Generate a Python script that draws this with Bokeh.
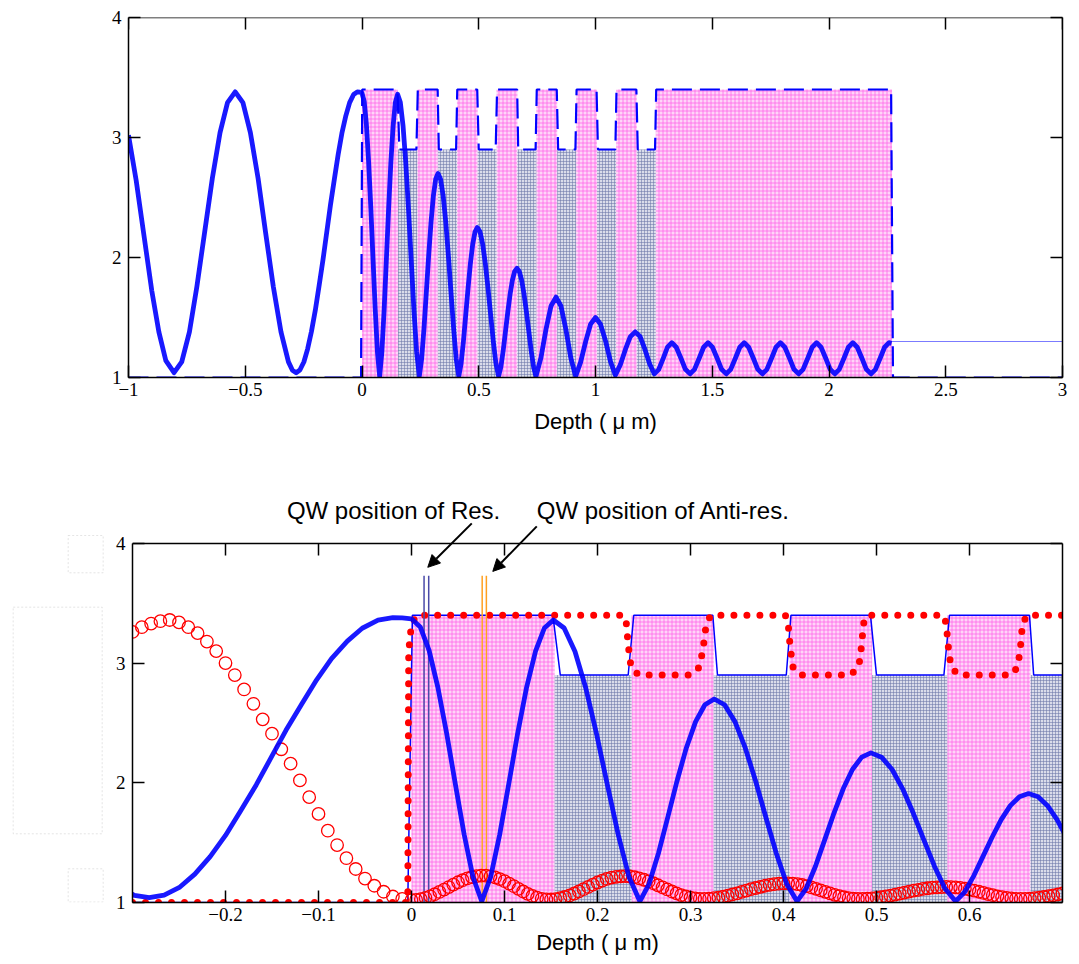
import numpy as np
from bokeh.plotting import figure
from bokeh.layouts import column, row
from bokeh.models import (LinearAxis, FixedTicker, Label, Arrow, NormalHead, Range1d,
                          BoxAnnotation)
from bokeh.embed import file_html
from bokeh.resources import INLINE

# ---------------- data ----------------
# optical field intensity (thick blue curve), depth in um
blue_x = [
    -1.000, -0.967, -0.935, -0.900, -0.870, -0.840, -0.805,
    -0.772, -0.739, -0.707, -0.674, -0.641, -0.608, -0.576, -0.543,
    -0.510, -0.478, -0.445, -0.413, -0.380, -0.347, -0.315, -0.298, -0.282,
    -0.266, -0.249, -0.233, -0.2165, -0.200, -0.184, -0.167, -0.151,
    -0.135, -0.118, -0.102, -0.086, -0.069, -0.053, -0.036, -0.020,
    -0.010, 0.000,
    0.0094, 0.0189, 0.0283, 0.0378, 0.0472, 0.0566, 0.0661, 0.0755,
    0.0851, 0.0948, 0.1044, 0.1140, 0.1236, 0.1333, 0.1429, 0.1525,
    0.1641, 0.1758, 0.1874, 0.1990, 0.2106, 0.2223, 0.2339, 0.2455,
    0.2555, 0.2655, 0.2755, 0.2855, 0.2955, 0.3055, 0.3155, 0.3255,
    0.3366, 0.3478, 0.3589, 0.3700, 0.3811, 0.3923, 0.4034, 0.4145,
    0.4244, 0.4344, 0.4443, 0.4543, 0.4642, 0.4741, 0.4841, 0.4940,
    0.5054, 0.5168, 0.5281, 0.5395, 0.5509, 0.5623, 0.5736, 0.5850,
    0.5948, 0.6046, 0.6144, 0.6243, 0.6341, 0.6439, 0.6537, 0.6635,
    0.6737, 0.6839, 0.6941, 0.7043, 0.7145, 0.7246, 0.7348, 0.7450,
    0.7665, 0.7880, 0.8095, 0.8310,
    0.852, 0.873, 0.894, 0.915,
    0.936, 0.958, 0.979, 1.000,
    1.021, 1.043, 1.064, 1.085,
    1.106, 1.128, 1.149, 1.170,
    1.191, 1.211, 1.232, 1.252,
    1.271, 1.290, 1.308, 1.327,
    1.346, 1.366, 1.385, 1.405,
    1.424, 1.444, 1.463, 1.482,
    1.501, 1.521, 1.540, 1.560,
    1.579, 1.599, 1.618, 1.637,
    1.656, 1.676, 1.695, 1.715,
    1.734, 1.754, 1.773, 1.792,
    1.811, 1.831, 1.850, 1.870,
    1.889, 1.909, 1.928, 1.947,
    1.966, 1.986, 2.005, 2.025,
    2.044, 2.064, 2.083, 2.102,
    2.121, 2.141, 2.160, 2.180,
    2.199, 2.219, 2.238, 2.257,
    2.268,
]
blue_y = [
    3.02, 2.64, 2.20, 1.72, 1.38, 1.14, 1.04,
    1.13, 1.38, 1.76, 2.21, 2.66, 3.04, 3.29, 3.38,
    3.29, 3.04, 2.66, 2.21, 1.76, 1.38, 1.13, 1.06, 1.04,
    1.062, 1.129, 1.237, 1.383, 1.560, 1.762, 1.982, 2.210,
    2.438, 2.658, 2.860, 3.037, 3.183, 3.291, 3.358, 3.380,
    3.378, 3.370,
    3.302, 3.106, 2.799, 2.413, 1.987, 1.569, 1.213, 1.010,
    1.213, 1.566, 1.983, 2.407, 2.792, 3.097, 3.293, 3.360,
    3.293, 3.097, 2.792, 2.407, 1.983, 1.566, 1.213, 1.010,
    1.156, 1.410, 1.710, 2.015, 2.291, 2.511, 2.652, 2.700,
    2.652, 2.511, 2.291, 2.015, 1.710, 1.410, 1.156, 1.010,
    1.117, 1.303, 1.523, 1.747, 1.950, 2.111, 2.214, 2.250,
    2.214, 2.111, 1.950, 1.747, 1.523, 1.303, 1.117, 1.010,
    1.088, 1.223, 1.383, 1.545, 1.692, 1.809, 1.884, 1.910,
    1.884, 1.809, 1.692, 1.545, 1.383, 1.223, 1.088, 1.010,
    1.166, 1.402, 1.596, 1.670,
    1.596, 1.402, 1.166, 1.010,
    1.126, 1.301, 1.445, 1.500,
    1.446, 1.305, 1.134, 1.020,
    1.105, 1.234, 1.340, 1.380,
    1.341, 1.238, 1.113, 1.030,
    1.068, 1.160, 1.252, 1.290,
    1.252, 1.160, 1.068, 1.030,
    1.068, 1.160, 1.252, 1.290,
    1.252, 1.160, 1.068, 1.030,
    1.068, 1.160, 1.252, 1.290,
    1.252, 1.160, 1.068, 1.030,
    1.068, 1.160, 1.252, 1.290,
    1.252, 1.160, 1.068, 1.030,
    1.068, 1.160, 1.252, 1.290,
    1.252, 1.160, 1.068, 1.030,
    1.068, 1.160, 1.252, 1.290,
    1.252, 1.160, 1.068, 1.030,
    1.068, 1.160, 1.252, 1.290,
    1.285,
]

# refractive-index profile of the resonant structure (blue)
index_x = [-1.0, -0.004, 0.001, 0.152, 0.160, 0.233, 0.239, 0.324, 0.329, 0.403,
           0.408, 0.4935, 0.500, 0.5725, 0.5785, 0.6645, 0.669, 0.7435, 0.7485, 0.834,
           0.840, 0.914, 0.919, 1.0045, 1.0105, 1.085, 1.090, 1.175, 1.181, 1.255,
           1.260, 2.266, 2.274, 3.0]
index_y = [1.0, 1.0, 3.4, 3.4, 2.9, 2.9, 3.4, 3.4, 2.9, 2.9,
           3.4, 3.4, 2.9, 2.9, 3.4, 3.4, 2.9, 2.9, 3.4, 3.4,
           2.9, 2.9, 3.4, 3.4, 2.9, 2.9, 3.4, 3.4, 2.9, 2.9,
           3.4, 3.4, 1.0, 1.0]

# refractive-index profile of the anti-resonant structure (red dots)
red_index_x = [-0.30, -0.004, -0.003, 0.000, 0.006, 0.228, 0.231, 0.233, 0.236, 0.244,
               0.300, 0.310, 0.314, 0.317, 0.322, 0.402, 0.405, 0.407, 0.410, 0.418,
               0.472, 0.481, 0.484, 0.486, 0.490, 0.572, 0.575, 0.577, 0.580, 0.588,
               0.645, 0.652, 0.655, 0.657, 0.662, 0.70]
red_index_y = [1.0, 1.0, 3.1, 3.33, 3.4, 3.4, 3.33, 3.15, 2.97, 2.9,
               2.9, 2.97, 3.15, 3.33, 3.4, 3.4, 3.33, 3.15, 2.97, 2.9,
               2.9, 2.97, 3.15, 3.33, 3.4, 3.4, 3.33, 3.15, 2.97, 2.9,
               2.9, 2.97, 3.15, 3.33, 3.4, 3.4]

# field intensity of the anti-resonant structure (red circles)
red_left_x = np.round(np.linspace(-0.30, -0.01, 30), 3)
red_right_x = np.round(np.linspace(0.0, 0.70, 141), 3)
red_left_y = [3.26, 3.30, 3.33, 3.35, 3.36, 3.34, 3.30, 3.25, 3.18, 3.10,
              3.00, 2.90, 2.78, 2.66, 2.53, 2.41, 2.28, 2.16, 2.02, 1.88,
              1.74, 1.60, 1.48, 1.37, 1.28, 1.20, 1.14, 1.09, 1.05, 1.03]
red_right_y = [
    1.020, 1.022, 1.028, 1.039, 1.052, 1.069, 1.088, 1.108, 1.129, 1.149,
    1.169, 1.186, 1.201, 1.213, 1.221, 1.225, 1.224, 1.219, 1.209, 1.195,
    1.178, 1.158, 1.136, 1.114, 1.092, 1.072, 1.055, 1.041, 1.031, 1.026,
    1.025, 1.029, 1.036, 1.046, 1.059, 1.075, 1.092, 1.111, 1.130, 1.149,
    1.167, 1.183, 1.197, 1.208, 1.215, 1.219, 1.220, 1.217, 1.211, 1.202,
    1.190, 1.176, 1.161, 1.144, 1.127, 1.109, 1.092, 1.076, 1.062, 1.050,
    1.041, 1.034, 1.031, 1.030, 1.032, 1.036, 1.041, 1.048, 1.057, 1.067,
    1.077, 1.088, 1.100, 1.111, 1.121, 1.131, 1.140, 1.148, 1.153, 1.157,
    1.160, 1.160, 1.157, 1.153, 1.146, 1.137, 1.126, 1.114, 1.101, 1.089,
    1.076, 1.064, 1.053, 1.044, 1.037, 1.033, 1.030, 1.030, 1.032, 1.035,
    1.039, 1.044, 1.051, 1.058, 1.066, 1.074, 1.083, 1.091, 1.099, 1.106,
    1.113, 1.119, 1.124, 1.127, 1.129, 1.130, 1.129, 1.126, 1.122, 1.115,
    1.108, 1.099, 1.090, 1.080, 1.070, 1.061, 1.052, 1.045, 1.038, 1.034,
    1.031, 1.030, 1.031, 1.033, 1.036, 1.041, 1.046, 1.053, 1.060, 1.067,
    1.075,
]
red_x = list(red_left_x) + list(red_right_x)
red_y = red_left_y + red_right_y

# layers (high index = pink, low index = grey)
hi_left = [0.0, 0.2366, 0.4065, 0.576, 0.7465, 0.917, 1.088, 1.258]
hi_right = [0.154, 0.325, 0.4953, 0.6656, 0.836, 1.0065, 1.177, 2.27]
lo_left = [0.154, 0.325, 0.4953, 0.6656, 0.836, 1.0065, 1.177]
lo_right = [0.2366, 0.4065, 0.576, 0.7465, 0.917, 1.088, 1.258]
n_air, n_hi, n_lo = 1.0, 3.4, 2.9

# field level in the substrate
subs_x = [2.27, 3.0]
subs_y = [1.30, 1.30]

# quantum-well positions
qw_res_x = [0.0135, 0.0185]
qw_anti_x = [0.0760, 0.0805]
qw_top = 3.73

top_xticks = [-1, -0.5, 0, 0.5, 1, 1.5, 2, 2.5, 3]
top_xlabels = ["\u22121", "\u22120.5", "0", "0.5", "1", "1.5", "2", "2.5", "3"]
bot_xticks = [-0.2, -0.1, 0, 0.1, 0.2, 0.3, 0.4, 0.5, 0.6]
bot_xlabels = ["\u22120.2", "\u22120.1", "0", "0.1", "0.2", "0.3", "0.4", "0.5", "0.6"]
yticks = [1, 2, 3, 4]
ylabels = ["1", "2", "3", "4"]

# ---------------- styling helpers ----------------
def style_axis(ax, ticks, labels=None):
    ax.ticker = FixedTicker(ticks=ticks, minor_ticks=[])
    ax.major_tick_in = 12
    ax.major_tick_out = 0
    ax.minor_tick_line_color = None
    ax.axis_line_color = "black"
    ax.axis_line_width = 1.5
    ax.major_tick_line_color = "black"
    ax.major_tick_line_width = 1.5
    if labels is not None:
        ax.major_label_overrides = dict(zip(ticks, labels))
        ax.major_label_text_font = "Liberation Serif"
        ax.major_label_text_font_size = "19px"
        ax.major_label_text_font_style = "normal"
        ax.major_label_text_color = "black"
    else:
        ax.major_label_text_color = None
        ax.major_label_standoff = 0


def make_fig(width, height, xr, yr, border_left, border_top, border_bottom,
             xticks, xlabels, label_standoff):
    p = figure(width=width, height=height, x_range=Range1d(*xr), y_range=Range1d(*yr),
               output_backend="svg", toolbar_location=None,
               min_border_left=border_left, min_border_right=17,
               min_border_top=border_top, min_border_bottom=border_bottom)
    p.grid.visible = False
    p.outline_line_color = None
    p.background_fill_color = "white"
    p.border_fill_color = "white"
    xa = p.below[0]
    style_axis(xa, xticks, xlabels)
    xa.major_label_standoff = 5
    xa.axis_label = "Depth ( \u03bc m)"
    xa.axis_label_text_font = "Liberation Sans"
    xa.axis_label_text_font_size = "22px"
    xa.axis_label_text_font_style = "normal"
    xa.axis_label_text_color = "black"
    xa.axis_label_standoff = label_standoff
    ya = p.left[0]
    style_axis(ya, yticks, ylabels)
    ya.major_label_standoff = 7
    ya.bounds = (1, 4)
    top_ax = LinearAxis(fixed_location=4)
    style_axis(top_ax, xticks)
    p.add_layout(top_ax, "above")
    right_ax = LinearAxis(bounds=(1, 4))
    style_axis(right_ax, yticks)
    p.add_layout(right_ax, "right")
    return p


def add_layers(p):
    p.quad(left=hi_left, right=hi_right, bottom=n_air, top=n_hi,
           fill_color="#ffd4f8", line_color=None,
           hatch_pattern="+", hatch_color="#ff5ae8", hatch_scale=4,
           hatch_weight=1, hatch_alpha=0.7)
    p.quad(left=lo_left, right=lo_right, bottom=n_air, top=n_lo,
           fill_color="#dadcea", line_color=None,
           hatch_pattern="+", hatch_color="#6c76a8", hatch_scale=3,
           hatch_weight=1, hatch_alpha=0.55)

# ---------------- top chart ----------------
p1 = make_fig(1079, 447, (-1, 3), (1, 4), 128, 17, 70, top_xticks, top_xlabels, 10)
add_layers(p1)
p1.line(index_x, index_y, line_color="#0000ff", line_width=2.2, line_dash="20 8")
p1.line(subs_x, subs_y, line_color="#7b7bff", line_width=1.2)
p1.line(blue_x, blue_y, line_color="#0000ff", line_width=4.8, line_alpha=0.9,
        line_join="round")

# ---------------- bottom chart (y range extended upward for the notes) ----------------
p2 = make_fig(974, 517, (-0.3, 0.7), (1, 4.45), 27, 42, 62, bot_xticks, bot_xlabels, 6)
add_layers(p2)
p2.line(index_x, index_y, line_color="#0000ff", line_width=1.5)
p2.line(red_index_x, red_index_y, line_color="#ff0000", line_width=7,
        line_dash="0 13", line_cap="round")
p2.segment(x0=qw_res_x, y0=n_air, x1=qw_res_x, y1=qw_top,
           line_color="#4a4aa8", line_width=1.5)
p2.segment(x0=qw_anti_x, y0=n_air, x1=qw_anti_x, y1=qw_top,
           line_color="#ffa020", line_width=1.5)
p2.scatter(red_x, red_y, marker="circle", size=12.5, fill_color=None,
           line_color="#ff0000", line_width=1.3)
p2.line(blue_x, blue_y, line_color="#0000ff", line_width=4.8, line_alpha=0.9,
        line_join="round")

for txt, xpos in (("QW position of Res.", -0.134), ("QW position of Anti-res.", 0.1347)):
    p2.add_layout(Label(x=xpos, y=4.276, text=txt, text_font="Liberation Sans",
                        text_font_size="24px", text_align="left",
                        text_baseline="middle", text_color="black"))

p2.add_layout(Arrow(x_start=0.0648, y_start=4.167, x_end=0.0175, y_end=3.80,
                    line_width=2, line_color="black",
                    end=NormalHead(size=12, fill_color="black", line_color="black")))
p2.add_layout(Arrow(x_start=0.1347, y_start=4.142, x_end=0.0874, y_end=3.766,
                    line_width=2, line_color="black",
                    end=NormalHead(size=12, fill_color="black", line_color="black")))

# ---------------- narrow side panel with the faint dotted frames ----------------
# (its frame is aligned with the bottom chart's frame, which spans 42..455 px)
side = figure(width=105, height=517, x_range=Range1d(0, 105), y_range=Range1d(455, 42),
              output_backend="svg", toolbar_location=None, min_border=0)
side.axis.visible = False
side.grid.visible = False
side.outline_line_color = None
for l, r, t, b in ((67.7, 102.7, 88.0, 125.3),
                   (12.7, 101.7, 159.7, 386.3),
                   (67.7, 102.7, 421.3, 454.5)):
    side.add_layout(BoxAnnotation(left=l, right=r, top=t, bottom=b,
                                  fill_color=None, line_color="#a8a8a8",
                                  line_dash="2 2", line_width=1))

layout = column(p1, row(side, p2, spacing=0), spacing=0)
open("out.html", "w").write(file_html(layout, INLINE))
